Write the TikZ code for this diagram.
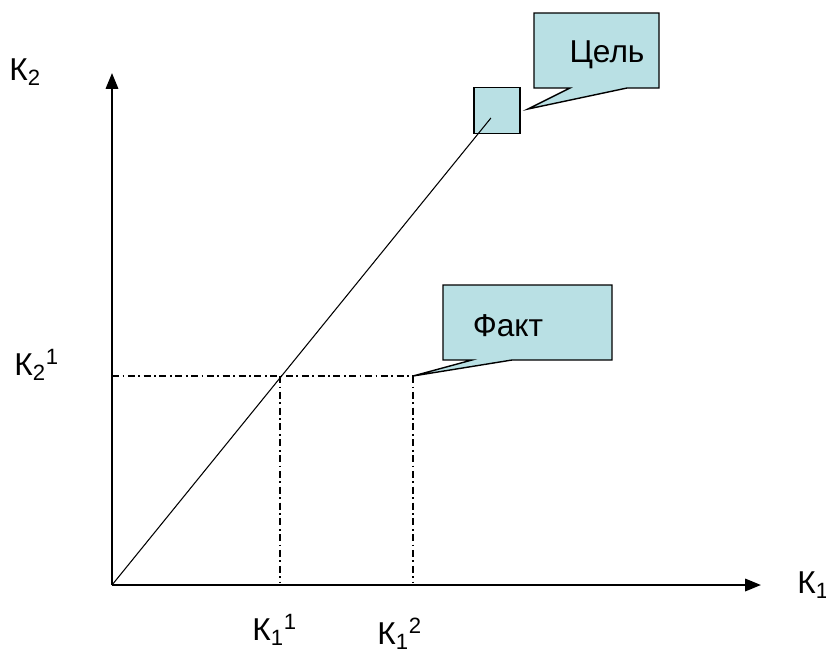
\documentclass[tikz,border=0pt]{standalone}
\usepackage{fontspec}
\setmainfont{Liberation Sans}
\usetikzlibrary{arrows.meta}
\definecolor{calloutfill}{RGB}{185,224,228}
\begin{document}
\begin{tikzpicture}[x=0.02cm,y=-0.02cm,font=\fontsize{18}{21}\selectfont,
        >={Triangle[length=9pt,width=7pt]}]
    \tikzset{
        axis/.style={->,line width=1.3pt},
        guide/.style={line width=0.6pt,dash pattern=on 4pt off 2pt on 1pt off 2pt},
        callout/.style={draw,line width=0.8pt,fill=calloutfill,line join=miter},
        axislabel/.style={anchor=west,inner sep=0pt}
    }
    \useasboundingbox (0,0) rectangle (826,654);

    \coordinate (O) at (112,585);
    \coordinate (xend) at (761,585);
    \coordinate (yend) at (112,73);
    \coordinate (fact) at (413,376);
    \coordinate (k21) at (112,376);
    \coordinate (cross) at (280,376);
    \coordinate (k11) at (280,583);
    \coordinate (k12) at (413,583);
    \coordinate (goaltip) at (528,109);

    % axes
    \draw[axis] (O) -- (xend);
    \draw[axis] (O) -- (yend);

    % target
    \node[callout,minimum size=0.92cm,inner sep=0pt] (goal) at (497,110.5) {};
    \draw[line width=0.6pt,shorten >=5.5pt] (O) -- (goal.center);

    % projections
    \draw[guide] (k21) -- (fact);
    \draw[guide] (cross) -- (k11);
    \draw[guide] (fact) -- (k12);

    % callouts
    \draw[callout] (534,13) -- (659,13) -- (659,88) -- (627,88)
        -- (goaltip) -- (570,88) -- (534,88) -- cycle;
    \node (goaltext) at (607,55) {Цель};
    \draw[callout] (443,285) -- (612,285) -- (612,360) -- (512,360)
        -- (fact) -- (472,360) -- (443,360) -- cycle;
    \node (facttext) at (508,326) {Факт};

    % labels
    \node[axislabel] (k2lab) at (9,72) {К\textsubscript{2}};
    \node[axislabel] (k1lab) at (797,585) {К\textsubscript{1}};
    \node[axislabel] (k21lab) at (14,365) {К\textsubscript{2}\textsuperscript{1}};
    \node[axislabel] (k11lab) at (252,630) {К\textsubscript{1}\textsuperscript{1}};
    \node[axislabel] (k12lab) at (377,634) {К\textsubscript{1}\textsuperscript{2}};
\end{tikzpicture}
\end{document}
